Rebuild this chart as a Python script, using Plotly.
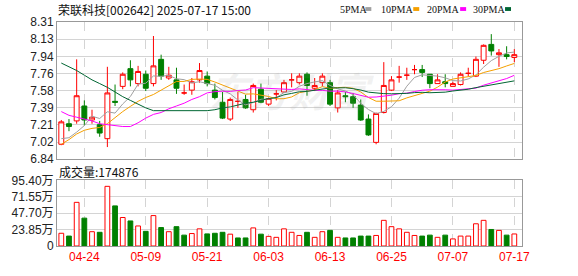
import plotly.graph_objects as go
import pandas as pd
import numpy as np

# ---------------- data ----------------
dates = ["04-21", "04-22", "04-23", "04-24", "04-25", "04-28", "04-29", "04-30",
         "05-06", "05-07", "05-08", "05-09", "05-12", "05-13", "05-14", "05-15", "05-16",
         "05-19", "05-20", "05-21", "05-22", "05-23", "05-26", "05-27", "05-28", "05-29", "05-30",
         "06-03", "06-04", "06-05", "06-06", "06-09", "06-10", "06-11", "06-12", "06-13",
         "06-16", "06-17", "06-18", "06-19", "06-20", "06-23", "06-24", "06-25", "06-26", "06-27", "06-30",
         "07-01", "07-02", "07-03", "07-04", "07-07", "07-08", "07-09", "07-10", "07-11",
         "07-14", "07-15", "07-16", "07-17"]

opens = [7.00, 7.22, 7.25, 7.41, 7.26, 7.21, 7.06, 7.46, 7.62, 7.81,
         7.65, 7.75, 7.65, 7.91, 7.71, 7.69, 7.55, 7.58, 7.69, 7.73,
         7.58, 7.45, 7.27, 7.46, 7.48, 7.37, 7.59, 7.43, 7.54, 7.56,
         7.69, 7.66, 7.75, 7.60, 7.66, 7.66, 7.39, 7.52, 7.51, 7.42,
         7.27, 7.02, 7.34, 7.58, 7.72, 7.74, 7.80, 7.80, 7.75, 7.65,
         7.67, 7.62, 7.64, 7.76, 7.73, 7.90, 8.07, 7.96, 7.96, 7.93]
highs = [7.26, 7.27, 7.91, 7.47, 7.37, 7.25, 7.83, 7.64, 7.77, 7.90,
         7.84, 7.79, 8.16, 7.96, 7.83, 7.82, 7.64, 7.71, 7.87, 7.78,
         7.65, 7.56, 7.50, 7.56, 7.53, 7.65, 7.65, 7.50, 7.58, 7.69,
         7.76, 7.76, 7.77, 7.71, 7.76, 7.69, 7.58, 7.56, 7.55, 7.48,
         7.32, 7.34, 7.88, 7.73, 7.84, 7.82, 7.85, 7.85, 7.75, 7.75,
         7.75, 7.67, 7.77, 7.82, 7.94, 8.07, 8.18, 8.02, 8.05, 8.02]
lows = [6.99, 7.14, 7.22, 7.20, 7.22, 7.08, 6.97, 7.41, 7.59, 7.62,
        7.62, 7.57, 7.62, 7.69, 7.69, 7.54, 7.53, 7.53, 7.66, 7.62,
        7.48, 7.27, 7.25, 7.39, 7.38, 7.34, 7.44, 7.41, 7.47, 7.55,
        7.61, 7.64, 7.52, 7.57, 7.62, 7.41, 7.34, 7.45, 7.39, 7.25,
        7.09, 7.00, 7.33, 7.57, 7.66, 7.69, 7.75, 7.72, 7.60, 7.65,
        7.61, 7.62, 7.63, 7.73, 7.72, 7.86, 7.95, 7.83, 7.91, 7.88]
closes = [7.24, 7.19, 7.52, 7.26, 7.29, 7.12, 7.55, 7.45, 7.75, 7.69,
          7.78, 7.60, 7.84, 7.73, 7.74, 7.60, 7.55, 7.67, 7.79, 7.65,
          7.50, 7.28, 7.48, 7.46, 7.39, 7.63, 7.45, 7.49, 7.54, 7.66,
          7.69, 7.73, 7.63, 7.63, 7.73, 7.43, 7.55, 7.51, 7.44, 7.26,
          7.10, 7.33, 7.63, 7.69, 7.72, 7.74, 7.80, 7.77, 7.65, 7.69,
          7.65, 7.65, 7.75, 7.76, 7.91, 8.06, 8.00, 7.98, 7.94, 7.96]
# volume in 万 (hands)
volumes = [18.5, 14.4, 63.4, 40.5, 20.8, 19.9, 86.7, 58.3, 41.4, 36.4,
           29.1, 21.3, 44.2, 26.8, 20.8, 28.1, 15.8, 18.1, 24.9, 17.6,
           18.5, 19.9, 17.2, 11.7, 11.7, 26.3, 17.2, 14.0, 12.6, 24.9,
           19.9, 15.3, 19.9, 12.6, 20.8, 22.7, 12.6, 11.7, 11.7, 14.4,
           14.4, 15.3, 37.3, 28.1, 24.9, 19.9, 15.3, 14.4, 15.8, 12.6,
           15.8, 10.3, 14.4, 14.4, 32.3, 37.3, 24.0, 22.7, 15.8, 17.4876]

# moving-average values before a full window exists inside the shown period
ma5_head = [7.06, 7.07, 7.13, 7.20]
ma10_head = [7.00, 7.05, 7.11, 7.15, 7.17, 7.18, 7.22, 7.29, 7.35]
ma20_head = [7.35, 7.31, 7.29, 7.27, 7.25, 7.22, 7.21, 7.20, 7.19, 7.19,
             7.23, 7.28, 7.32, 7.34, 7.38, 7.41, 7.44, 7.48, 7.51]
ma30_head = [7.87, 7.83, 7.79, 7.74, 7.69, 7.65, 7.61, 7.56, 7.51, 7.47,
             7.43, 7.39, 7.36, 7.36, 7.36, 7.36, 7.36, 7.36, 7.36, 7.36,
             7.37, 7.39, 7.40, 7.42, 7.44, 7.45, 7.47, 7.49, 7.50]

price_ticks = ["6.84", "7.02", "7.21", "7.39", "7.58", "7.76", "7.94", "8.13", "8.31"]
vol_ticks = ["0", "23.85万", "47.70万", "71.55万", "95.40万"]
x_ticks = ["04-24", "05-09", "05-21", "06-03", "06-13", "06-25", "07-07", "07-17"]
ma_names = ["5PMA", "10PMA", "20PMA", "30PMA"]

title_text = "荣联科技[002642] 2025-07-17 15:00"

# ---------------- styles ----------------
RED = "#ff0000"
GREEN = "#008000"
MA_COLORS = ["#a0a0a0", "#f5a000", "#ff00ff", "#006633"]
GRID = "#d4d4d4"
FRAME = "#999999"
W, H = 578, 276
L, R, T, B = 56, 56, 22, 21
pw, ph = W - L - R, H - T - B


def fx(px):
    return (px - L) / pw


def fy(py):
    return (H - B - py) / ph


# ---------------- derived ----------------
cl = pd.Series(closes)


def ma(n, head):
    m = cl.rolling(n).mean().tolist()
    return [head[i] if i < len(head) else m[i] for i in range(len(closes))]


mas = [ma(5, ma5_head), ma(10, ma10_head), ma(20, ma20_head), ma(30, ma30_head)]

up = [c >= o for o, c in zip(opens, closes)]
vol_up = []
for i, (o, c) in enumerate(zip(opens, closes)):
    if c != o:
        vol_up.append(c > o)
    else:
        vol_up.append(i == 0 or c >= closes[i - 1])


def pick(arr, mask):
    return [a for a, m in zip(arr, mask) if m]


down = [not u for u in up]

fig = go.Figure()

# MA lines
for name, vals, col in zip(ma_names, mas, MA_COLORS):
    fig.add_trace(go.Scatter(x=dates, y=vals, mode="lines", name=name,
                             line=dict(color=col, width=1), xaxis="x", yaxis="y",
                             hoverinfo="skip"))

# candles (up: hollow red, down: solid green)
fig.add_trace(go.Candlestick(
    x=pick(dates, up), open=pick(opens, up), high=pick(highs, up),
    low=pick(lows, up), close=pick(closes, up),
    increasing=dict(line=dict(color=RED, width=1), fillcolor="white"),
    decreasing=dict(line=dict(color=RED, width=1), fillcolor="white"),
    whiskerwidth=0, xaxis="x", yaxis="y", name="up"))
fig.add_trace(go.Candlestick(
    x=pick(dates, down), open=pick(opens, down), high=pick(highs, down),
    low=pick(lows, down), close=pick(closes, down),
    increasing=dict(line=dict(color=GREEN, width=1), fillcolor=GREEN),
    decreasing=dict(line=dict(color=GREEN, width=1), fillcolor=GREEN),
    whiskerwidth=0, xaxis="x", yaxis="y", name="down"))

# volume bars
fig.add_trace(go.Bar(
    x=dates, y=volumes, width=0.62,
    marker=dict(color=["white" if u else GREEN for u in vol_up],
                line=dict(color=[RED if u else GREEN for u in vol_up], width=1)),
    xaxis="x2", yaxis="y2", name="vol"))

pmin, pmax = float(price_ticks[0]), float(price_ticks[-1])
vmax = float(vol_ticks[-1].replace("万", ""))
xr = [-0.56, len(dates) - 1 + 1.0]

axis_common = dict(showline=True, mirror=True, linecolor=FRAME, linewidth=1,
                   zeroline=False, fixedrange=True)
tick_font = dict(family="Liberation Sans, Noto Sans CJK SC", size=12, color="#222222")

fig.update_layout(
    width=W, height=H, margin=dict(l=L, r=R, t=T, b=B),
    paper_bgcolor="white", plot_bgcolor="white", showlegend=False,
    boxgap=0.2, boxgroupgap=0.2,
    xaxis=dict(type="category", domain=[0, 1], anchor="y", range=xr,
               rangeslider=dict(visible=False), tickmode="array", tickvals=x_ticks,
               showticklabels=False, showgrid=True, gridcolor=GRID, griddash="dash",
               ticks="", **axis_common),
    yaxis=dict(domain=[fy(164.7), 1], anchor="x", range=[pmin, pmax],
               tickmode="array", tickvals=list(np.linspace(pmin, pmax, len(price_ticks))),
               ticktext=price_ticks, showgrid=True, gridcolor=GRID, ticks="",
               tickfont=tick_font, **axis_common),
    xaxis2=dict(type="category", domain=[0, 1], anchor="y2", range=xr,
                tickmode="array", tickvals=x_ticks, ticktext=x_ticks,
                showgrid=True, gridcolor=GRID, griddash="dash", ticks="",
                tickfont=dict(family="Liberation Sans", size=12, color=RED),
                **axis_common),
    yaxis2=dict(domain=[0, fy(186.7)], anchor="x2", range=[0, vmax],
                tickmode="array", tickvals=list(np.linspace(0, vmax, len(vol_ticks))),
                ticktext=vol_ticks, showgrid=True, gridcolor=GRID, ticks="",
                tickfont=tick_font, **axis_common),
)

ann = []
ann.append(dict(text=title_text, x=fx(55), y=fy(9), xref="paper", yref="paper",
                xanchor="left", yanchor="middle", showarrow=False,
                font=dict(family="Noto Sans CJK SC", size=12, color="#111111")))
ann.append(dict(text="成交量:" + f"{volumes[-1] * 10000:.0f}", x=fx(56), y=fy(177),
                xref="paper", yref="paper", xanchor="left", yanchor="middle",
                showarrow=False,
                font=dict(family="Noto Sans CJK SC", size=12, color="#111111")))
# legend: text start and square start (pixels)
text_left = [338, 379, 425, 471]
sq_left = [365, 413, 460, 505]
for name, col, tx, sx in zip(ma_names, MA_COLORS, text_left, sq_left):
    ann.append(dict(text=name, x=fx(tx), y=fy(9), xref="paper", yref="paper",
                    xanchor="left", yanchor="middle", showarrow=False,
                    font=dict(family="Liberation Serif", size=10, color="#111111")))
    fig.add_shape(type="rect", xref="paper", yref="paper",
                  x0=fx(sx), x1=fx(sx + 6), y0=fy(10.5), y1=fy(6.5),
                  fillcolor=col, line=dict(width=0))
# watermark
ann.append(dict(text="<b><i>东方财富</i></b>", x=fx(292), y=fy(93), xref="paper", yref="paper",
                xanchor="center", yanchor="middle", showarrow=False,
                font=dict(family="Noto Sans CJK SC", size=40, color="rgba(150,150,150,0.12)")))
fig.update_layout(annotations=ann)

fig.write_html("out.html")
